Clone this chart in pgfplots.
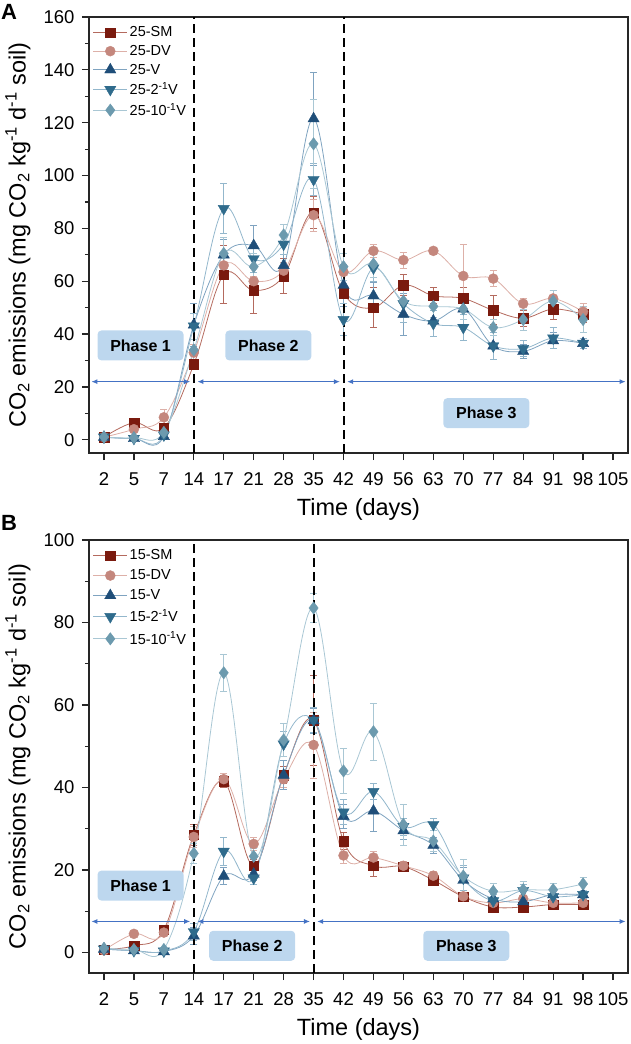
\documentclass[border=0pt]{standalone}
\usepackage{fontspec}
\setmainfont{Liberation Sans}
\usepackage{pgfplots}
\usepackage{pgfplotstable}
\pgfplotsset{compat=1.18}
\usetikzlibrary{arrows.meta}

\definecolor{cSM}{HTML}{7A1A0E}
\definecolor{lSM}{HTML}{B46A5E}
\definecolor{cDV}{HTML}{C4877D}
\definecolor{lDV}{HTML}{DDB0A8}
\definecolor{cV}{HTML}{1F4E79}
\definecolor{lV}{HTML}{7FA3C0}
\definecolor{cH}{HTML}{2F6B8C}
\definecolor{lH}{HTML}{93B7CC}
\definecolor{cT}{HTML}{6C9AAE}
\definecolor{lT}{HTML}{A9C7D4}
\definecolor{arrowc}{HTML}{4472C4}
\definecolor{boxc}{HTML}{BDD7EE}

% panel A (25 %)
\pgfplotstableread{
x  SM   eSM  DV   eDV  V     eV   H    eH   T    eT
0  1.0  0.5  1.0  0.5  1.0   0.5  1.0  0.5  1.0  0.5
1  6.5  1.0  4.0  1.0  0.5   0.5  0.5  0.5  0.8  0.5
2  4.5  1.0  8.5  3.0  1.3   1.0  1.8  1.0  2.8  1.0
3  28.5 2.0  33   3.0  43.5  8.0  43   5.0  34   4.0
4  62.5 11   66   3.0  70    6.0  87.5 9.5  70.5 6.0
5  56.5 8.5  60   2.0  73.5  7.5  68.5 5.0  65.5 5.0
6  62   6.5  64   3.0  66    4.0  74   4.0  77.5 4.0
7  86   6.0  85   6.0  121.5 17.5 98.5 6.0  112  17
8  55.5 5.0  63.5 3.0  58.5  8.0  45.5 6.0  65.5 5.0
9  50   7.5  71.5 2.5  54.5  5.0  65   5.0  66.5 5.0
10 58.5 4.0  68   3.0  47.5  8.0  51.5 7.0  52.5 6.0
11 54.5 3.0  71.5 1.5  45    6.0  44   5.0  50.5 4.0
12 53.5 4.0  62   12   49.5  4.0  42.5 5.0  49.5 4.0
13 49   5.5  61   3.0  35.5  5.0  35.5 5.0  42.5 3.0
14 46   3.0  51.5 2.0  33.5  2.5  34.5 3.0  45.5 4.0
15 49.5 4.0  53.5 3.0  37.5  3.0  38.5 4.0  52.5 4.0
16 47.5 3.0  48.5 3.0  36.5  2.0  36.5 2.0  45.5 5.0
}\tabA

% panel B (15 %)
\pgfplotstableread{
x  SM   eSM  DV   eDV  V     eV   H    eH   T    eT
0  0.7  0.3  0.5  0.3  0.8   0.3  0.8  0.3  1.0  0.3
1  1.6  0.5  4.5  0.5  0.4   0.3  0.4  0.3  0.7  0.3
2  5.5  1.0  4.8  1.0  0.2   0.3  0.3  0.3  0.7  0.3
3  28.5 2.5  28   2.5  4.0   2.0  5.0  2.0  24   2.5
4  41.5 1.5  42   1.5  18.5  2.0  24.5 3.5  67.8 4.5
5  21   1.5  26.3 1.5  19    1.5  18   1.5  23.3 2.0
6  43   2.0  42   2.0  43    3.5  50.5 3.0  51.5 4.0
7  56.3 11   50.3 8.0  56.2  3.0  56.3 3.0  83.5 3.5
8  27   2.0  23.5 2.0  33    3.0  34   3.0  44   5.5
9  21   2.5  23   1.5  34.3  5.0  39   2.0  53.5 7.0
10 20.8 1.0  21   1.0  29.5  2.0  30.5 2.0  31   5.0
11 17.5 1.0  18.6 1.0  26    2.0  31   1.5  27   2.5
12 13.5 1.0  13.6 1.0  17.5  3.0  18   3.0  18.5 4.0
13 11   0.8  12   0.8  13    1.5  12.5 1.5  14.8 2.0
14 11   0.8  13   0.8  12.3  1.5  15   1.5  15.2 2.0
15 11.6 0.8  12   0.8  14    1.5  13.5 1.5  15.2 1.5
16 11.6 0.8  12   0.8  14    1.0  14   1.0  16.6 1.5
}\tabB

\pgfplotsset{
  common/.style={
    width=539pt, scale only axis,
    xmin=-0.5, xmax=17.5,
    xtick={0,...,17},
    xticklabels={2,5,7,14,17,21,28,35,42,49,56,63,70,77,84,91,98,105},
    minor y tick num=1,
    tick align=outside, tick pos=left,
    major tick length=7pt, minor tick length=4pt,
    axis line style={line width=1.2pt, black!85},
    every tick/.style={line width=1.2pt, black!85},
    /pgf/number format/assume math mode=true,
    ticklabel style={font=\fontsize{18.5}{18.5}\selectfont},
    xticklabel style={yshift=-9pt},
    yticklabel style={xshift=-4pt},
    label style={font=\fontsize{23.5}{23.5}\selectfont},
    ylabel={CO\textsubscript{2} emissions (mg CO\textsubscript{2} kg\textsuperscript{-1} d\textsuperscript{-1} soil)},
    xlabel={Time (days)},
    ylabel style={at={(axis description cs:-0.132,0.5)}, anchor=center},
    xlabel style={at={(axis description cs:0.5,0)}, yshift=-56pt, anchor=center},
    legend cell align=left,
    legend image code/.code={\draw[mark repeat=2,mark phase=2,#1] plot coordinates {(0pt,0pt) (17pt,0pt) (34pt,0pt)};},
    legend style={draw=none, fill=none, at={(axis description cs:0.005,0.985)}, anchor=north west,
      font=\fontsize{14.5}{14.5}\selectfont, inner sep=1pt},
    clip=false,
  },
  ser/.style n args={4}{smooth, tension=0.6, color=#2, line width=0.8pt, mark=#3,
    mark options={fill=#1, draw=#1, solid, line width=0.4pt, #4},
    error bars/.cd, y dir=both, y explicit,
    error bar style={color=#2, line width=0.7pt},
    error mark options={rotate=90, mark size=3.5pt, color=#2, line width=0.7pt},
    /pgfplots/.cd},
}
\tikzset{
  phase/.style={fill=boxc, rounded corners=4pt, minimum width=86pt, minimum height=30pt,
    inner sep=0pt, font=\bfseries\fontsize{16}{16}\selectfont},
  parrow/.style={arrowc, line width=1pt, {Latex[length=6pt,width=5pt]}-{Latex[length=6pt,width=5pt]}},
  vdash/.style={black, line width=2pt, dash pattern=on 9pt off 5pt},
}

\begin{document}
\begin{tikzpicture}
\useasboundingbox (-89pt,-591pt) rectangle (541pt,453pt);

% ---------------- Panel A ----------------
\begin{axis}[common, at={(0pt,0pt)}, anchor=south west,
  height=436pt, ymin=-5, ymax=160, ytick={0,20,...,160},
  legend style={row sep=3pt}]
\addplot[mark size=4.8pt, ser={cSM}{lSM}{square*}{}] table[x=x, y=SM, y error=eSM] {\tabA};
\addlegendentry{25-SM}
\addplot[mark size=5pt, ser={cDV}{lDV}{*}{}] table[x=x, y=DV, y error=eDV] {\tabA};
\addlegendentry{25-DV}
\addplot[mark size=6.5pt, ser={cV}{lV}{triangle*}{}] table[x=x, y=V, y error=eV] {\tabA};
\addlegendentry{25-V}
\addplot[mark size=6.5pt, ser={cH}{lH}{triangle*}{rotate=180}] table[x=x, y=H, y error=eH] {\tabA};
\addlegendentry{25-2\textsuperscript{-1}V}
\addplot[mark size=6.2pt, ser={cT}{lT}{diamond*}{}] table[x=x, y=T, y error=eT] {\tabA};
\addlegendentry{25-10\textsuperscript{-1}V}

\draw[vdash] (axis cs:3,-5) -- (axis cs:3,160);
\draw[vdash] (axis cs:8,-5) -- (axis cs:8,160);

\draw[parrow] (axis cs:-0.42,22) -- (axis cs:2.88,22);
\draw[parrow] (axis cs:3.12,22) -- (axis cs:7.88,22);
\draw[parrow] (axis cs:8.12,22) -- (axis cs:17.42,22);

\node[phase] at (axis cs:1.22,35.7) {Phase 1};
\node[phase] at (axis cs:5.49,35.7) {Phase 2};
\node[phase] at (axis cs:12.77,10.1) {Phase 3};
\end{axis}

% ---------------- Panel B ----------------
\begin{axis}[common, at={(0pt,-520pt)}, anchor=south west,
  height=433pt, ymin=-5, ymax=100, ytick={0,20,...,100},
  legend style={row sep=4.5pt}]
\addplot[mark size=4.8pt, ser={cSM}{lSM}{square*}{}] table[x=x, y=SM, y error=eSM] {\tabB};
\addlegendentry{15-SM}
\addplot[mark size=5pt, ser={cDV}{lDV}{*}{}] table[x=x, y=DV, y error=eDV] {\tabB};
\addlegendentry{15-DV}
\addplot[mark size=6.5pt, ser={cV}{lV}{triangle*}{}] table[x=x, y=V, y error=eV] {\tabB};
\addlegendentry{15-V}
\addplot[mark size=6.5pt, ser={cH}{lH}{triangle*}{rotate=180}] table[x=x, y=H, y error=eH] {\tabB};
\addlegendentry{15-2\textsuperscript{-1}V}
\addplot[mark size=6.2pt, ser={cT}{lT}{diamond*}{}] table[x=x, y=T, y error=eT] {\tabB};
\addlegendentry{15-10\textsuperscript{-1}V}

\draw[vdash] (axis cs:3,-5) -- (axis cs:3,100);
\draw[vdash] (axis cs:7,-5) -- (axis cs:7,100);

\draw[parrow] (axis cs:-0.42,7.5) -- (axis cs:2.88,7.5);
\draw[parrow] (axis cs:3.12,7.5) -- (axis cs:6.88,7.5);
\draw[parrow] (axis cs:7.12,7.5) -- (axis cs:17.42,7.5);

\node[phase] at (axis cs:1.22,16.2) {Phase 1};
\node[phase] at (axis cs:4.95,1.6) {Phase 2};
\node[phase] at (axis cs:12.1,1.6) {Phase 3};
\end{axis}

\node[font=\bfseries\fontsize{22}{22}\selectfont] at (-80pt,441pt) {A};
\node[font=\bfseries\fontsize{22}{22}\selectfont] at (-80pt,-70pt) {B};
\end{tikzpicture}
\end{document}
